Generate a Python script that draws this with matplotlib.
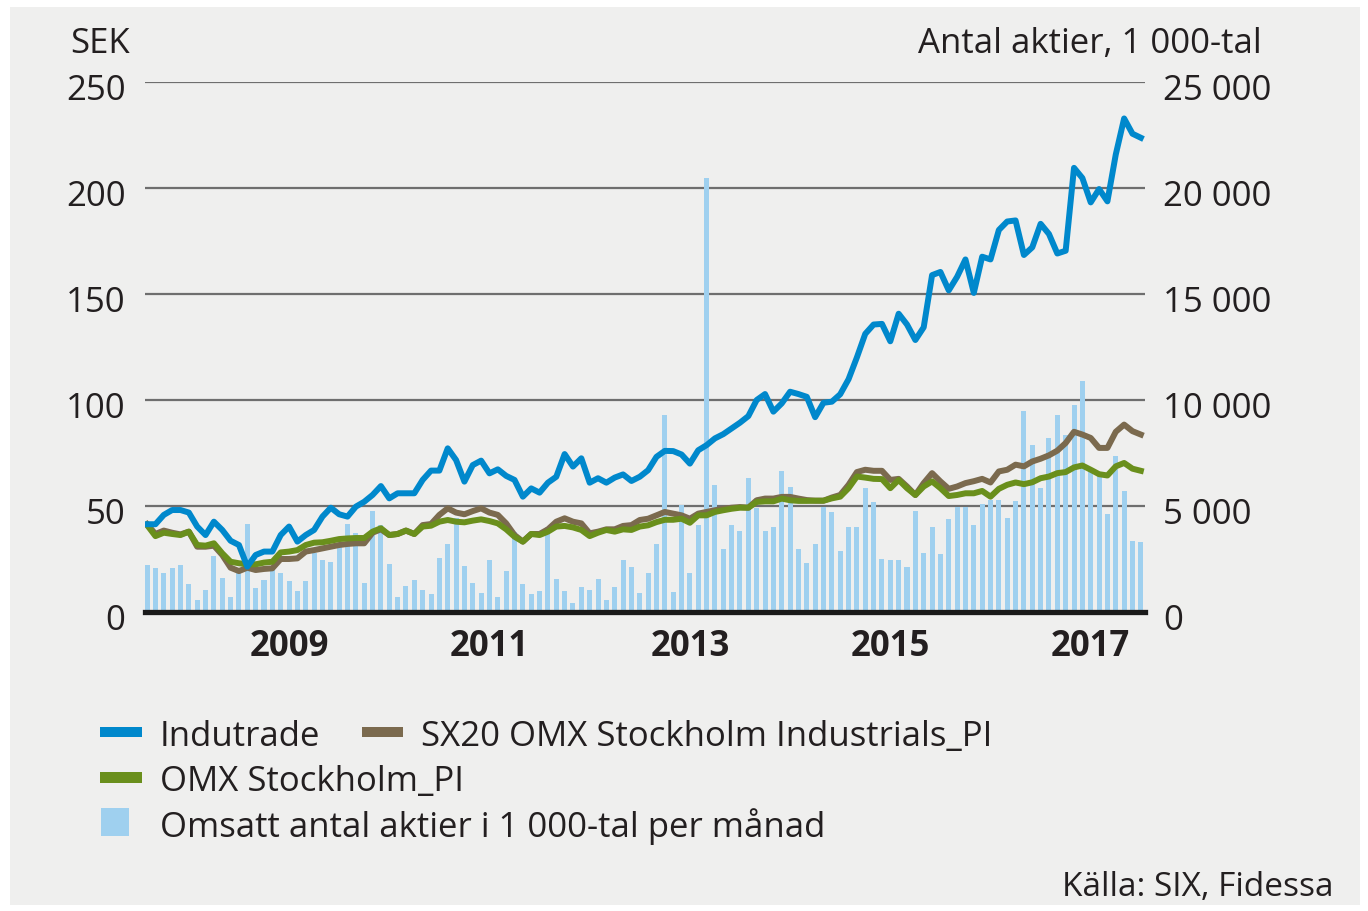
import matplotlib
matplotlib.use("Agg")
import matplotlib.pyplot as plt
from matplotlib.patches import Rectangle
from matplotlib.ticker import FixedLocator, FuncFormatter
from matplotlib.transforms import ScaledTranslation
import numpy as np

# ---------------- data (monthly, Jan 2008 - Dec 2017) ----------------
indutrade = [41.4, 41.4, 45.8, 48.1, 48.1, 46.9, 40.3, 36.3, 42.6, 38.7, 33.6, 31.6, 21.4, 26.9, 28.5, 28.5, 36.3, 40.3, 33.2, 36.3,
             38.7, 45.0, 49.2, 46.1, 45.0, 49.7, 52.0, 55.2, 59.4, 53.6, 56.0, 56.0, 56.0, 62.3, 66.7, 66.7, 77.2, 71.7, 61.5, 69.3,
             71.4, 65.4, 67.3, 64.2, 62.3, 54.4, 58.3, 56.3, 61.0, 63.8, 74.5, 68.6, 72.5, 61.0, 63.1, 61.0, 63.4, 64.9, 61.8, 63.8,
             66.9, 73.2, 76.0, 75.9, 74.3, 70.0, 76.3, 78.7, 81.9, 83.9, 86.6, 89.3, 92.4, 100.0, 102.8, 94.5, 98.4, 103.9, 102.8, 101.5,
             91.9, 98.7, 99.2, 102.7, 109.8, 120.1, 131.2, 135.6, 135.9, 127.7, 140.7, 135.6, 128.3, 134.3, 158.9, 160.4, 151.7, 158.1, 166.3, 150.5,
             167.6, 166.3, 180.2, 184.2, 184.7, 168.4, 172.0, 183.1, 178.3, 169.1, 170.4, 209.5, 204.7, 193.2, 199.5, 193.7, 215.8, 232.8, 225.6, 223.7]

sx20_industrials = [41.4, 36.8, 38.4, 37.4, 36.6, 37.9, 30.8, 30.8, 31.3, 26.9, 20.9, 19.3, 20.9, 19.8, 20.3, 20.6, 25.0, 25.0, 25.3, 28.5,
                    29.2, 30.0, 30.8, 31.6, 32.1, 32.4, 32.4, 37.4, 39.0, 36.3, 36.8, 38.4, 36.8, 41.0, 41.5, 45.8, 48.9, 46.9, 46.1, 47.6,
                    48.9, 46.9, 45.8, 41.8, 36.3, 33.2, 36.8, 36.8, 39.0, 42.6, 44.2, 42.6, 41.8, 37.1, 37.9, 39.0, 39.0, 40.6, 41.0, 43.4,
                    44.0, 45.6, 47.2, 46.4, 45.6, 44.0, 46.4, 47.2, 48.0, 48.7, 49.2, 49.5, 49.2, 52.7, 53.5, 53.5, 54.3, 54.3, 53.5, 52.8,
                    52.5, 52.5, 54.0, 55.2, 60.0, 66.0, 67.1, 66.6, 66.6, 62.3, 62.8, 59.2, 55.2, 60.8, 65.5, 61.6, 58.1, 59.2, 60.8, 61.7,
                    62.8, 61.1, 66.3, 67.1, 69.5, 68.7, 71.0, 72.3, 73.9, 76.1, 79.7, 85.0, 83.7, 82.1, 77.4, 77.4, 85.0, 88.4, 85.3, 83.7]

omx_stockholm = [41.0, 35.8, 37.4, 36.8, 36.3, 37.9, 31.6, 31.3, 32.4, 27.7, 23.7, 23.0, 22.5, 22.5, 23.3, 23.7, 28.1, 28.5, 29.2, 31.6,
                 32.7, 32.9, 33.6, 34.4, 34.7, 34.9, 34.9, 37.9, 39.5, 36.3, 36.8, 38.4, 36.8, 40.3, 40.7, 42.6, 43.4, 42.6, 42.3, 43.1,
                 43.7, 42.9, 41.8, 39.0, 35.5, 33.2, 36.8, 36.3, 37.9, 40.3, 40.6, 39.9, 38.7, 35.8, 37.4, 38.7, 37.9, 39.0, 38.7, 40.3,
                 40.9, 42.4, 43.5, 43.5, 44.0, 42.1, 45.6, 45.6, 47.2, 48.0, 48.7, 49.2, 49.2, 51.9, 52.2, 52.2, 53.5, 52.7, 52.4, 52.4,
                 52.5, 52.5, 53.6, 54.4, 58.4, 63.9, 63.4, 62.8, 62.7, 58.4, 62.3, 58.4, 55.2, 59.2, 61.6, 58.4, 54.7, 55.2, 56.0, 56.0,
                 57.1, 54.4, 58.1, 60.0, 61.1, 60.3, 61.2, 63.1, 63.9, 65.5, 66.0, 68.2, 69.1, 67.1, 65.0, 64.4, 68.7, 70.3, 67.6, 66.6]

volume_k = [2220, 2060, 1860, 2060, 2200, 1320, 570, 1040, 2660, 1590, 690, 2000, 4150, 1120, 1510, 1980, 1860, 1450, 990, 1450,
            2800, 2450, 2370, 3080, 4150, 3740, 1380, 4760, 4090, 2260, 690, 1240, 1510, 1040, 830, 2530, 3210, 4430, 2190, 1380,
            910, 2450, 690, 1920, 3790, 1300, 830, 990, 4030, 1570, 990, 440, 1160, 1040, 1570, 570, 1160, 2450, 2140, 910,
            1850, 3210, 9290, 960, 5050, 1850, 4100, 20460, 5990, 2960, 4100, 3840, 6310, 4890, 3840, 4030, 6650, 5910, 2960, 2300,
            3230, 4970, 4700, 2860, 4020, 4020, 5840, 5170, 2520, 2440, 2440, 2120, 4760, 2800, 4020, 2720, 4370, 4970, 4970, 4100,
            5080, 5300, 5280, 4450, 5240, 9480, 7900, 5840, 8210, 9290, 8340, 9760, 10900, 6800, 6500, 4620, 7340, 5710, 3340, 3280]

year_labels = ["2009", "2011", "2013", "2015", "2017"]
year_tick_months = [17, 41, 65, 89, 113]
sek_ticks = [0, 50, 100, 150, 200, 250]
vol_ticks = [0, 5000, 10000, 15000, 20000, 25000]

legend_labels = ["Indutrade", "SX20 OMX Stockholm Industrials_PI", "OMX Stockholm_PI",
                 "Omsatt antal aktier i 1 000-tal per månad"]

# ---------------- style ----------------
BLUE = "#0088cc"
BROWN = "#7b6a4e"
GREEN = "#6a8f1c"
BAR = "#9fd0ef"
PANEL = "#efefee"
TXT = "#231f20"
GRID = "#6e6e6e"

plt.rcParams["font.family"] = ["Open Sans", "DejaVu Sans"]
FS = 25

W, H = 1368, 911
fig = plt.figure(figsize=(W / 100, H / 100), dpi=100)
fig.patch.set_facecolor("white")

def fx(x):
    return x / W

def fy(y):
    return 1 - y / H

fig.patches.append(Rectangle((fx(10), fy(905)), fx(1360) - fx(10), fy(7) - fy(905),
                             transform=fig.transFigure, facecolor=PANEL, edgecolor="none", zorder=-10))

ax_left, ax_right, ax_top, ax_bot = 145, 1145, 82, 612
rect = [fx(ax_left), fy(ax_bot), fx(ax_right) - fx(ax_left), fy(ax_top) - fy(ax_bot)]

months = np.arange(len(indutrade))

# bars axis (right scale)
axb = fig.add_axes(rect)
axb.set_zorder(1)
axb.set_facecolor("none")
axb.bar(months, volume_k, width=0.6, color=BAR, zorder=2)
axb.set_ylim(0, 25000)
axb.set_xlim(-0.25, 119.5)
axb.set_axisbelow(True)
axb.yaxis.set_major_locator(FixedLocator(vol_ticks))
axb.yaxis.grid(True, color=GRID, linewidth=1.6, zorder=0)
axb.yaxis.set_major_formatter(FuncFormatter(lambda v, p: f"{int(v):,}".replace(",", " ")))
axb.set_xticks(year_tick_months)
axb.set_xticklabels(year_labels, fontweight="bold")
axb.tick_params(axis="x", length=0, pad=12, labelsize=FS, labelcolor=TXT)
for s in axb.spines.values():
    s.set_visible(False)

# lines axis (left scale, drawn on top)
axl = axb.twinx()
axl.set_zorder(2)
axl.set_facecolor("none")
axl.plot(months, sx20_industrials, color=BROWN, lw=4.3, solid_joinstyle="round", zorder=3)
axl.plot(months, omx_stockholm, color=GREEN, lw=4.3, solid_joinstyle="round", zorder=4)
axl.plot(months, indutrade, color=BLUE, lw=4.3, solid_joinstyle="round", zorder=5)
axl.set_ylim(0, 250)
axl.yaxis.set_major_locator(FixedLocator(sek_ticks))
axl.axhline(0, color="#1a1a1a", lw=3.8, zorder=6, clip_on=False)
for s in axl.spines.values():
    s.set_visible(False)

# tick sides (after twinx)
axb.yaxis.tick_right()
axb.tick_params(axis="y", length=0, pad=13, labelsize=FS, labelcolor=TXT)
axl.yaxis.tick_left()
axl.tick_params(axis="y", length=0, pad=14, labelsize=FS, labelcolor=TXT)

# nudge y tick labels a few pixels down, as in the reference
fig.canvas.draw()
shift = ScaledTranslation(0, -5 / 100, fig.dpi_scale_trans)
for axis in (axb.yaxis, axl.yaxis):
    for tick in axis.get_major_ticks():
        for lab in (tick.label1, tick.label2):
            lab.set_transform(lab.get_transform() + shift)

# axis titles
fig.text(fx(70), fy(40), "SEK", fontsize=FS, color=TXT, ha="left", va="center_baseline")
fig.text(fx(1262), fy(40), "Antal aktier, 1 000-tal", fontsize=FS, color=TXT, ha="right", va="center_baseline")

# legend (manual)
def swatch(x0, x1, y0, y1, color):
    fig.patches.append(Rectangle((fx(x0), fy(y1)), fx(x1) - fx(x0), fy(y0) - fy(y1),
                                 transform=fig.transFigure, facecolor=color, edgecolor="none", zorder=3))

swatch(100, 142, 727, 737, BLUE)
fig.text(fx(160), fy(733), legend_labels[0], fontsize=FS, color=TXT, ha="left", va="center_baseline")
swatch(362, 403, 727, 737, BROWN)
fig.text(fx(421), fy(733), legend_labels[1], fontsize=FS, color=TXT, ha="left", va="center_baseline")
swatch(100, 142, 772, 783, GREEN)
fig.text(fx(160), fy(778), legend_labels[2], fontsize=FS, color=TXT, ha="left", va="center_baseline")
swatch(101, 129, 808, 836, BAR)
fig.text(fx(160), fy(823), legend_labels[3], fontsize=FS, color=TXT, ha="left", va="center_baseline")

fig.text(fx(1333), fy(884), "Källa: SIX, Fidessa", fontsize=FS - 1, color=TXT, ha="right", va="center_baseline")

fig.savefig("out.png", dpi=100, facecolor="white")
